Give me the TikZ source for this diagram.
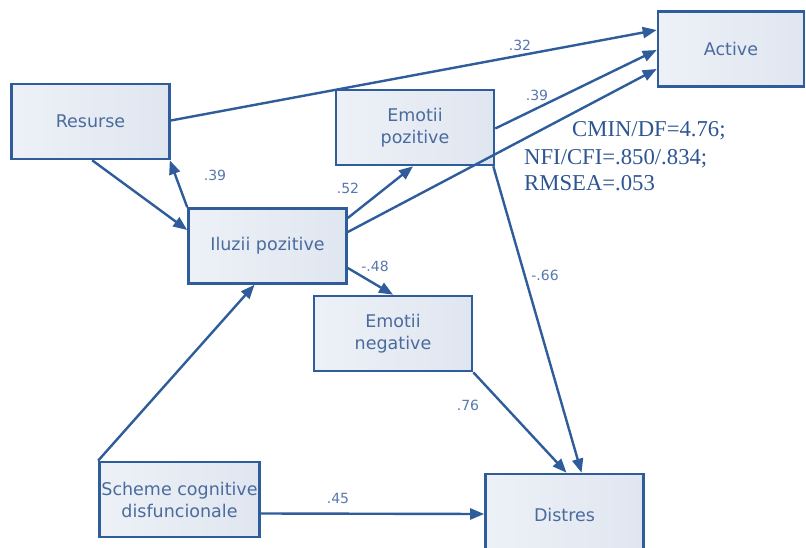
\documentclass[tikz,border=0pt]{standalone}
\usepackage{fontspec}
\setmainfont{Liberation Serif}
\newfontfamily\boxfont{DejaVu Sans}
\usetikzlibrary{arrows.meta,calc}
\definecolor{edgeblue}{HTML}{2F5C9A}
\definecolor{boxtext}{HTML}{4A6B9E}
\definecolor{lbltext}{HTML}{5878AE}
\definecolor{fillA}{HTML}{EDF1F7}
\definecolor{fillB}{HTML}{E0E6F0}
\definecolor{stattext}{HTML}{2E5592}
\tikzset{
  varbox/.style={draw=edgeblue, line width=2.6pt, left color=fillA, right color=fillB,
    minimum width=158pt, minimum height=75pt, inner sep=2pt, align=center,
    text=boxtext, font=\boxfont\fontsize{17.5}{22}\selectfont},
  path/.style={draw=edgeblue, line width=2.4pt,
    -{Triangle[length=14pt,width=11pt]}},
  coef/.style={text=lbltext, font=\boxfont\fontsize{14}{16}\selectfont, inner sep=0pt},
  stat/.style={text=stattext, font=\fontsize{22.7}{26}\selectfont, anchor=base west, inner sep=0pt}
}
\begin{document}
\begin{tikzpicture}[x=1pt,y=-1pt]
\useasboundingbox (0,0) rectangle (806,548);
\clip (0,0) rectangle (806,548);
\fill[white] (0,0) rectangle (806,548);

% variables
\node[varbox] (res) at (90.5,121.5) {Resurse};
\node[varbox] (epoz) at (415,127.5) {Emotii\\pozitive};
\node[varbox, minimum width=146pt] (act) at (731,49) {Active};
\node[varbox] (ilu) at (267.5,246) {Iluzii pozitive};
\node[varbox] (eneg) at (393,333.5) {Emotii\\negative};
\node[varbox] (sch) at (179.5,499.5) {Scheme cognitive\\disfuncionale};
\node[varbox, minimum height=82pt] (dis) at (564.5,515) {Distres};

% structural paths
\draw[path] ($(res.east)+(0,-1)$) -- ($(act.west)+(0,-19)$);
\draw[path] ($(epoz.east)+(0,1)$) -- ($(act.west)+(0,1)$);
\draw[path] ($(ilu.east)+(0,-14)$) -- ($(act.west)+(0,20)$);
\draw[path] ($(res.south west)+(82,0)$) -- ($(ilu.west)+(0,-16)$);
\draw[path] (ilu.north west) -- ($(res.south east)+(-1,0)$);
\draw[path] ($(ilu.east)+(0,-28)$) -- ($(epoz.south)+(-2,0)$);
\draw[path] ($(ilu.east)+(0,22)$) -- ($(eneg.north)+(0,0)$);
\draw[path] ($(epoz.south east)+(-2,0)$) -- ($(dis.north)+(17,0)$);
\draw[path] (eneg.south east) -- ($(dis.north)+(2,0)$);
\draw[path] (sch.north west) -- ($(ilu.south)+(-13,0)$);
\draw[path] ($(sch.east)+(0,14)$) -- ($(dis.west)+(0,-1)$);

% coefficients
\node[coef] (c1) at (520,45) {.32};
\node[coef] (c2) at (537,95) {.39};
\node[coef] (c3) at (215,175) {.39};
\node[coef] (c4) at (348,188) {.52};
\node[coef] (c5) at (375,266) {-.48};
\node[coef] (c6) at (545,275) {-.66};
\node[coef] (c7) at (468,405) {.76};
\node[coef] (c8) at (338,498) {.45};

% fit indices
\node[stat] (s1) at (572,137) {CMIN/DF=4.76;};
\node[stat] (s2) at (524,165) {NFI/CFI=.850/.834;};
\node[stat] (s3) at (524,191) {RMSEA=.053};
\end{tikzpicture}
\end{document}
